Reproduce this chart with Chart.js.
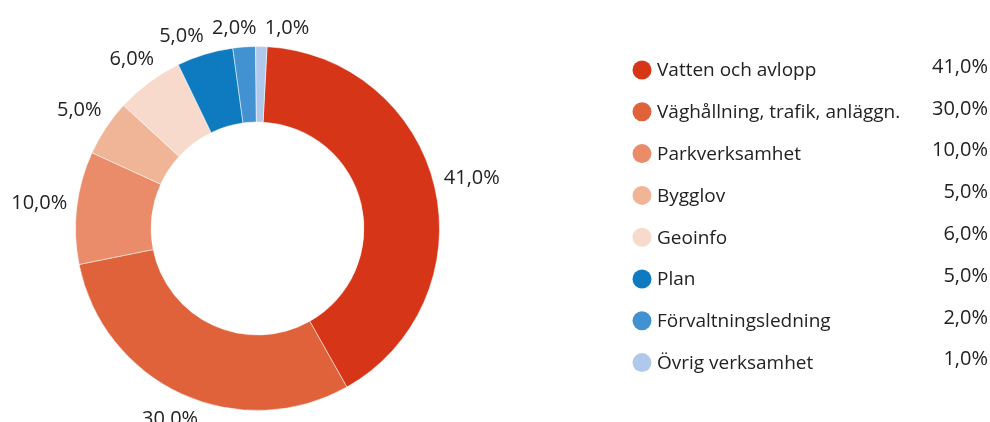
<!DOCTYPE html>
<html>
<head>
<meta charset="utf-8">
<script src="https://cdn.jsdelivr.net/npm/chart.js@4.4.1/dist/chart.umd.min.js"></script>
<style>
    html, body { margin: 0; padding: 0; background: #fff; }
    #wrap { width: 990px; height: 422px; }
</style>
</head>
<body>
<div id="wrap"><canvas id="Kostnader" width="990" height="422"></canvas></div>
<script>
    var categories = ["Vatten och avlopp", "Väghållning, trafik, anläggn.", "Parkverksamhet", "Bygglov", "Geoinfo", "Plan", "Förvaltningsledning", "Övrig verksamhet"];
    var shares = [41, 30, 10, 5, 6, 5, 2, 1];
    var sliceLabels = ["41,0%", "30.0%", "10,0%", "5,0%", "6,0%", "5,0%", "2,0%", "1,0%"];
    var legendValues = ["41,0%", "30,0%", "10,0%", "5,0%", "6,0%", "5,0%", "2,0%", "1,0%"];
    var colors = ["#d63518", "#e0623a", "#ea8c6a", "#f0b597", "#f7dacb", "#0e7bc0", "#4291d0", "#afc8ec"];

    var FONT = '"Open Sans", sans-serif';
    var TEXT = "#222222";
    var MIN_SEP = 15 * Math.PI / 180;

    // labels outside each slice; angles spread apart when slices are thin
    var sliceLabelPlugin = {
        id: 'sliceLabels',
        afterDatasetsDraw: function (chart) {
            var ctx = chart.ctx;
            var arcs = chart.getDatasetMeta(0).data;
            ctx.save();
            ctx.font = '20px ' + FONT;
            ctx.fillStyle = TEXT;
            ctx.textAlign = 'center';
            ctx.textBaseline = 'middle';
            var items = arcs.map(function (arc, i) {
                var p = arc.getProps(['x', 'y', 'startAngle', 'endAngle', 'outerRadius'], true);
                return { p: p, a: (p.startAngle + p.endAngle) / 2, t: sliceLabels[i] };
            });
            for (var pass = 0; pass < 60; pass++) {
                for (var i = 1; i < items.length; i++) {
                    var gap = items[i].a - items[i - 1].a;
                    if (gap < MIN_SEP) {
                        var d = (MIN_SEP - gap) / 2;
                        items[i - 1].a -= d;
                        items[i].a += d;
                    }
                }
            }
            items.forEach(function (it) {
                var w = ctx.measureText(it.t).width;
                var c = Math.cos(it.a), s = Math.sin(it.a);
                var dist = it.p.outerRadius + 9 + Math.abs(c) * w / 2 + Math.abs(s) * 8;
                ctx.fillText(it.t, it.p.x + c * dist, it.p.y + s * dist);
            });
            ctx.restore();
        }
    };

    // legend on the right, with the share right-aligned
    var sideLegendPlugin = {
        id: 'sideLegend',
        afterDraw: function (chart) {
            var ctx = chart.ctx;
            var ds = chart.data.datasets[0];
            ctx.save();
            chart.data.labels.forEach(function (label, i) {
                var y = 70 + i * 41.8;
                ctx.fillStyle = ds.backgroundColor[i];
                ctx.beginPath();
                ctx.arc(642, y, 9.5, 0, Math.PI * 2);
                ctx.fill();
                ctx.fillStyle = TEXT;
                ctx.textBaseline = 'middle';
                ctx.textAlign = 'left';
                ctx.font = '19px ' + FONT;
                ctx.fillText(label, 657, y + 1);
                ctx.textAlign = 'right';
                ctx.font = '20px ' + FONT;
                ctx.fillText(legendValues[i], 988, y - 3);
            });
            ctx.restore();
        }
    };

    new Chart(document.getElementById('Kostnader'), {
        type: 'doughnut',
        data: {
            labels: categories,
            datasets: [
                {
                    data: shares,
                    backgroundColor: colors,
                    borderColor: 'rgba(255,255,255,0.5)',
                    borderWidth: 1
                }
            ]
        },
        options: {
            responsive: false,
            animation: false,
            rotation: 3,
            cutout: '58.5%',
            layout: {
                padding: { left: 75, right: 550, top: 46, bottom: 11 }
            },
            plugins: {
                legend: { display: false },
                tooltip: { enabled: false }
            }
        },
        plugins: [sliceLabelPlugin, sideLegendPlugin]
    });
</script>
</body>
</html>
